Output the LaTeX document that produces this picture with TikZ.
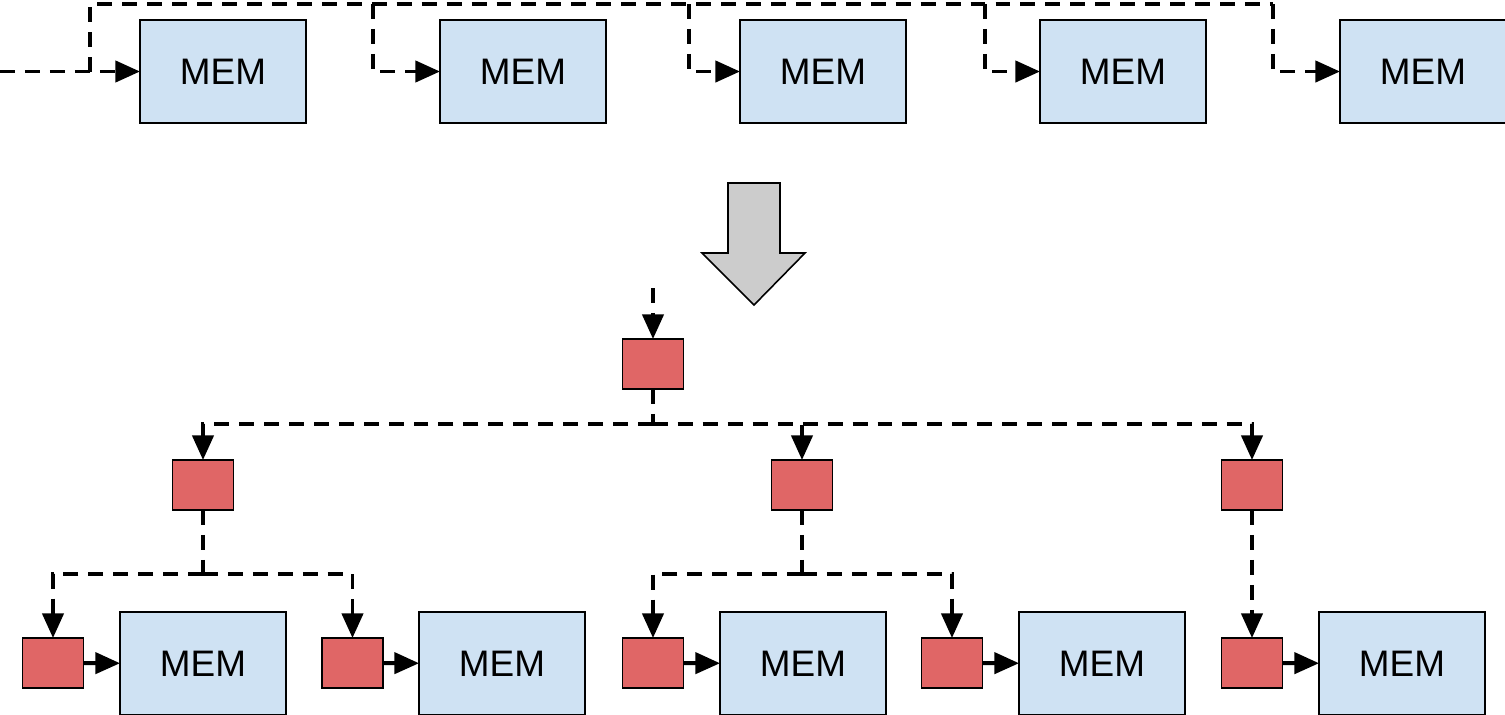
\documentclass[tikz,border=0pt]{standalone}
\usepackage{fontspec}
\setmainfont{Liberation Sans}
\usetikzlibrary{arrows.meta}
\definecolor{memblue}{HTML}{CFE2F3}
\definecolor{swred}{HTML}{E06666}
\definecolor{arrgray}{HTML}{CCCCCC}

\begin{document}
\begin{tikzpicture}[x=0.02cm, y=-0.02cm,
    mem/.style={draw, line width=0.9pt, fill=memblue, minimum width=3.32cm, minimum height=2.06cm,
        inner sep=0pt, outer sep=0pt, font=\fontsize{21}{25}\selectfont},
    sw/.style={draw, line width=0.9pt, fill=swred, minimum width=1.22cm, minimum height=1cm,
        inner sep=0pt, outer sep=0pt},
    bus/.style={line width=2.2pt, dash pattern=on 8.5pt off 5.7pt},
    tip/.style={-{Triangle[length=14pt,width=12pt]}}]
            \useasboundingbox (0,0) rectangle (1505,714);

            \foreach \x [count=\n] in {223,523,823,1123,1423}
                {\node[mem] (m\n) at (\x,71.5) {MEM};}

            \coordinate (in) at (0,71.5);
            \coordinate (j0) at (90,71.5);
            \draw[bus,tip] (in) -- (m1);
            \foreach \x [count=\n, evaluate=\n as \k using int(\n+1)] in {373,689,985,1273}
                {\coordinate (d\n) at (\x,4);
                    \draw[bus,tip] (d\n) |- (m\k);}
            \draw[bus] (j0) |- (d4);

            \draw[line width=0.9pt, fill=arrgray] (728,183) -- (780,183) -- (780,253) -- (805,253)
                -- (754,305) -- (702,253) -- (728,253) -- cycle;

            \node[sw] (r0) at (653,364) {};
            \coordinate (rin) at (653,288);
            \draw[bus,tip] (rin) -- (r0);

            \foreach \x [count=\n] in {203,802,1252}
                {\node[sw] (r\n) at (\x,485) {};}

            \foreach \x [count=\n, evaluate=\x as \y using int(\x+150)] in {53,352.5,653,952,1252}
                {\node[sw] (l\n) at (\x,663) {};
                    \node[mem] (b\n) at (\y,663.5) {MEM};
                    \draw[line width=2.2pt,tip] (l\n) -- (b\n);}

            \coordinate (s0) at (653,424);
            \draw[bus] (r0) -- (s0);
            \foreach \n in {1,2,3}
                {\draw[bus,tip] (s0) -| (r\n);}

            \coordinate (s1) at (203,574);
            \coordinate (s2) at (802,574);
            \draw[bus] (r1) -- (s1);
            \draw[bus] (r2) -- (s2);
            \draw[bus,tip] (s1) -| (l1);
            \draw[bus,tip] (s1) -| (l2);
            \draw[bus,tip] (s2) -| (l3);
            \draw[bus,tip] (s2) -| (l4);
            \draw[bus,tip] (r3) -- (l5);
        \end{tikzpicture}
\end{document}
